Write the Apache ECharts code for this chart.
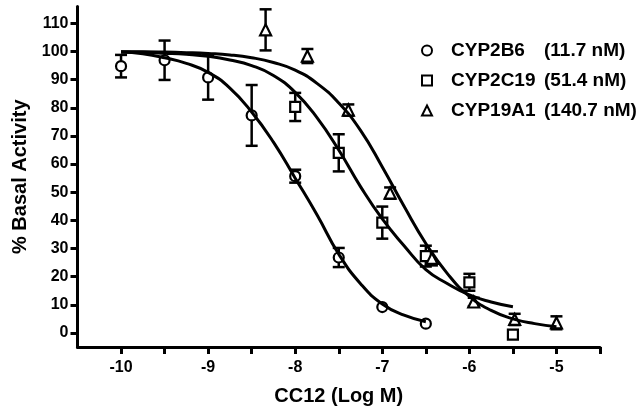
<!DOCTYPE html>
<html>
<head>
<meta charset="utf-8">
<script src="https://cdn.jsdelivr.net/npm/echarts@6/dist/echarts.min.js"></script>
<style>
html,body{margin:0;padding:0;background:#fff;}
#c{width:643px;height:411px;}
</style>
</head>
<body>
<div id="c"></div>
<script>
// ---- data ----
const seriesNames = ['CYP2B6', 'CYP2C19', 'CYP19A1'];
const ic50Labels = ['(11.7 nM)', '(51.4 nM)', '(140.7 nM)'];

const xCircle = [-10, -9.5, -9, -8.5, -8, -7.5, -7, -6.5];
const yCircle = [94.8, 96.9, 90.8, 77.3, 55.7, 26.8, 9.2, 3.3];
const eCircle = [4.0, 7.0, 7.9, 10.8, 2.3, 3.4, 0, 0];

const xSquare = [-8, -7.5, -7, -6.5, -6, -5.5];
const ySquare = [80.3, 64.0, 39.2, 27.3, 18.0, -0.6];
const eSquare = [5.0, 6.6, 5.7, 3.7, 3.0, 0];

const xTri = [-8.34, -7.86, -7.39, -6.91, -6.43, -5.95, -5.48, -5.0];
const yTri = [107.7, 98.4, 79.2, 49.7, 26.5, 11.0, 4.8, 3.6];
const eTri = [7.3, 2.5, 2.0, 2.0, 2.5, 1.5, 2.0, 2.3];

const curveX2B6 = [-10, -9.75, -9.5, -9.25, -9, -8.75, -8.5, -8.25, -8, -7.75, -7.5, -7.25, -7, -6.75, -6.5];
const curveY2B6 = [99.8, 99.2, 97.8, 95.8, 92.6, 87.0, 78.5, 67.8, 55.0, 42.0, 28.0, 17.5, 10.3, 6.3, 4.0];

const curveX2C19 = [-10, -9.75, -9.5, -9.25, -9, -8.75, -8.5, -8.25, -8, -7.75, -7.5, -7.25, -7, -6.75, -6.5, -6.25, -6, -5.75, -5.5];
const curveY2C19 = [99.8, 99.7, 99.4, 99.0, 98.3, 97.0, 95.0, 91.5, 85.5, 76.5, 65.0, 52.0, 40.5, 31.0, 22.5, 17.5, 13.5, 11.0, 9.3];

const curveX19A1 = [-10, -9.75, -9.5, -9.25, -9, -8.75, -8.5, -8.25, -8, -7.75, -7.5, -7.25, -7, -6.75, -6.5, -6.25, -6, -5.75, -5.5, -5.25, -5];
const curveY19A1 = [99.9, 99.9, 99.8, 99.6, 99.3, 98.8, 97.8, 96.1, 93.4, 88.7, 81.7, 72.0, 59.0, 45.0, 31.8, 21.0, 13.0, 8.0, 5.0, 3.3, 2.2];

const xTickValues = [-10, -9.5, -9, -8.5, -8, -7.5, -7, -6.5, -6, -5.5, -5, -4.5];
const xLabelValues = [-10, -9, -8, -7, -6, -5];
const yTickValues = [0, 10, 20, 30, 40, 50, 60, 70, 80, 90, 100, 110];

// ---- build ----
const FONT = 'Liberation Sans, Arial, sans-serif';
const zip = (xs, ys) => xs.map((x, i) => [x, ys[i]]);
const zip3 = (xs, ys, es) => xs.map((x, i) => [x, ys[i], es[i]]);

function errorSeries(data) {
  return {
    type: 'custom',
    z: 1,
    silent: true,
    data: data,
    encode: { x: 0, y: [1, 2] },
    renderItem: function (params, api) {
      const x = api.value(0), y = api.value(1), e = api.value(2);
      if (!e) return null;
      const top = api.coord([x, y + e]);
      const bot = api.coord([x, y - e]);
      const hw = 6;
      const st = { stroke: '#000', lineWidth: 2.5 };
      return {
        type: 'group',
        children: [
          { type: 'line', shape: { x1: top[0], y1: top[1], x2: bot[0], y2: bot[1] }, style: st },
          { type: 'line', shape: { x1: top[0] - hw, y1: top[1], x2: top[0] + hw, y2: top[1] }, style: st },
          { type: 'line', shape: { x1: bot[0] - hw, y1: bot[1], x2: bot[0] + hw, y2: bot[1] }, style: st }
        ]
      };
    }
  };
}

function pointSeries(name, symbol, size, data) {
  return {
    name: name,
    type: 'scatter',
    z: 2,
    symbol: symbol,
    symbolSize: size,
    data: data,
    itemStyle: { color: '#fff', borderColor: '#000', borderWidth: 2.2, opacity: 1 },
    emphasis: { disabled: true }
  };
}

function curveSeries(data) {
  return {
    type: 'line',
    z: 3,
    data: data,
    smooth: true,
    showSymbol: false,
    silent: true,
    lineStyle: { color: '#000', width: 3 }
  };
}

const chart = echarts.init(document.getElementById('c'), null, { renderer: 'canvas' });
chart.setOption({
  animation: false,
  backgroundColor: '#fff',
  grid: { left: 77.5, right: 43, top: 6.5, bottom: 63.5, containLabel: false },
  legend: {
    data: seriesNames,
    orient: 'vertical',
    left: 421,
    top: 41,
    padding: 0,
    itemWidth: 10,
    itemHeight: 10,
    itemGap: 11,
    selectedMode: false,
    formatter: function (name) {
      const i = seriesNames.indexOf(name);
      return '{s|}{n|' + name + '}{v|' + ic50Labels[i] + '}';
    },
    textStyle: {
      rich: {
        s: { width: 14 },
        n: { width: 93, fontSize: 19, fontWeight: 'bold', fontFamily: FONT, color: '#000', lineHeight: 20 },
        v: { fontSize: 19, fontWeight: 'bold', fontFamily: FONT, color: '#000', lineHeight: 20 }
      }
    }
  },
  xAxis: {
    type: 'value',
    min: -10.5,
    max: -4.5,
    name: 'CC12 (Log M)',
    nameLocation: 'middle',
    nameGap: 39,
    nameTextStyle: { fontSize: 20, fontWeight: 'bold', fontFamily: FONT, color: '#000' },
    axisLine: { show: true, onZero: false, lineStyle: { color: '#000', width: 3 } },
    axisTick: { show: true, customValues: xTickValues, length: 7, lineStyle: { color: '#000', width: 3 } },
    axisLabel: { customValues: xLabelValues, margin: 13, fontSize: 16, fontWeight: 'bold', fontFamily: FONT, color: '#000',
      formatter: function (v) { return String(v); } },
    splitLine: { show: false }
  },
  yAxis: {
    type: 'value',
    min: -5,
    max: 116,
    name: '% Basal Activity',
    nameLocation: 'middle',
    nameGap: 44,
    nameTextStyle: { fontSize: 20, fontWeight: 'bold', fontFamily: FONT, color: '#000' },
    axisLine: { show: true, onZero: false, lineStyle: { color: '#000', width: 3 } },
    axisTick: { show: true, customValues: yTickValues, length: 7, lineStyle: { color: '#000', width: 3 } },
    axisLabel: { customValues: yTickValues, margin: 9, fontSize: 16, fontWeight: 'bold', fontFamily: FONT, color: '#000' },
    splitLine: { show: false }
  },
  series: [
    errorSeries(zip3(xCircle, yCircle, eCircle)),
    errorSeries(zip3(xSquare, ySquare, eSquare)),
    errorSeries(zip3(xTri, yTri, eTri)),
    pointSeries(seriesNames[0], 'circle', 10, zip(xCircle, yCircle)),
    pointSeries(seriesNames[1], 'rect', 10, zip(xSquare, ySquare)),
    pointSeries(seriesNames[2], 'triangle', 11, zip(xTri, yTri)),
    curveSeries(zip(curveX2B6, curveY2B6)),
    curveSeries(zip(curveX2C19, curveY2C19)),
    curveSeries(zip(curveX19A1, curveY19A1))
  ]
});
</script>
</body>
</html>
